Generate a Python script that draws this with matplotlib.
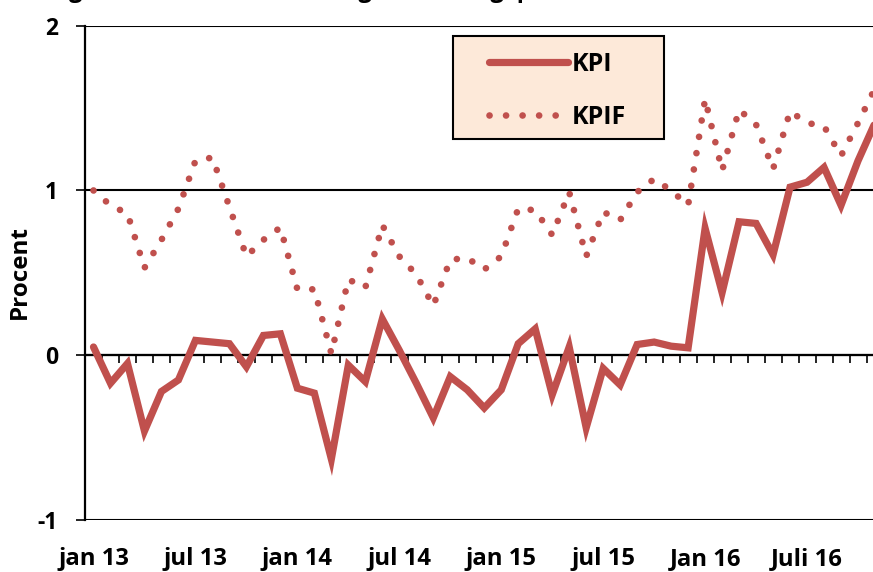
import numpy as np
import matplotlib
matplotlib.use("Agg")
import matplotlib.pyplot as plt
from matplotlib.patches import Rectangle

# ---- data (annual % change), monthly Jan 2013 .. Nov 2016 ----
kpi = [0.05, -0.17, -0.05, -0.46, -0.22, -0.15, 0.09, 0.08, 0.07, -0.07, 0.12, 0.13,
       -0.20, -0.23, -0.63, -0.06, -0.16, 0.22, 0.03, -0.17, -0.38, -0.13, -0.21, -0.32,
       -0.21, 0.07, 0.16, -0.24, 0.05, -0.44, -0.08, -0.18, 0.065, 0.08, 0.055, 0.045,
       0.77, 0.38, 0.81, 0.80, 0.61, 1.02, 1.05, 1.14, 0.91, 1.18, 1.41]
kpif = [1.00, 0.91, 0.86, 0.53, 0.70, 0.89, 1.18, 1.20, 0.90, 0.60, 0.70, 0.775,
        0.40, 0.40, 0.01, 0.46, 0.41, 0.79, 0.60, 0.49, 0.30, 0.58, 0.59, 0.52,
        0.60, 0.89, 0.88, 0.73, 0.99, 0.60, 0.87, 0.82, 0.99, 1.07, 1.00, 0.91,
        1.555, 1.12, 1.49, 1.40, 1.13, 1.48, 1.41, 1.39, 1.21, 1.41, 1.62]
tick_pos = [0, 6, 12, 18, 24, 30, 36, 42]
tick_labels = ["jan 13", "jul 13", "jan 14", "jul 14", "jan 15", "jul 15", "Jan 16", "Juli 16"]
series_names = ["KPI", "KPIF"]
y_ticks = [-1, 0, 1, 2]

RED = "#C0504D"
FONT = "Open Sans"

plt.rcParams["font.family"] = [FONT, "DejaVu Sans"]
plt.rcParams["font.weight"] = "bold"

W, H = 873, 572
fig = plt.figure(figsize=(W / 100, H / 100), dpi=100)
ax = fig.add_axes([85 / W, (H - 520) / H, 1 - 85 / W, (520 - 25.7) / H])

x = np.arange(len(kpi))
l1, = ax.plot(x, kpi, color=RED, lw=5.2, solid_capstyle="round", solid_joinstyle="miter",
              label=series_names[0], zorder=3)
l2, = ax.plot(x, kpif, color=RED, lw=4.8, linestyle=(0, (0.01, 2.47)),
              dash_capstyle="round", label=series_names[1], zorder=3)

# spines
for s in ["top", "right"]:
    ax.spines[s].set_visible(False)
ax.spines["bottom"].set_position(("data", 0))
ax.spines["bottom"].set_linewidth(1.6)
ax.spines["left"].set_linewidth(1.6)

# y axis
ax.set_yticks(y_ticks)
ax.set_yticklabels([str(v) for v in y_ticks])
ax.tick_params(axis="y", direction="out", length=6.5, width=1.2, pad=13,
               labelsize=16.5, colors="black")
ax.yaxis.grid(True, color="black", lw=1.5)
ax.set_axisbelow(True)
ax.set_ylabel("Procent", fontsize=17.5, fontweight="bold")
ax.yaxis.set_label_coords((32 - 85) / (W - 85), (520 - 272) / (520 - 25.7))

# x axis: minor ticks at month boundaries, labels far below
ax.set_xticks(np.arange(0.5, len(kpi) + 1, 1.0), minor=True)
ax.set_xticks(tick_pos)
ax.set_xticklabels(tick_labels)
ax.tick_params(axis="x", which="minor", direction="out", length=6, width=1.2)
ax.tick_params(axis="x", which="major", length=0, pad=138, labelsize=17.2)

ax.set_xlim(-0.5, (W - 93) / 17.0)
ax.set_ylim(-1, 2)

# title (cut off at the top edge, as in the source image)
fig.text(30 / W, 1.0 + 3 / H, "Diagram 1. KPI och KPIF, årlig förändring, procent",
         fontsize=17, fontweight="bold", va="baseline", ha="left")

# legend box
fig.patches.append(Rectangle((453 / W, (H - 139) / H), 211 / W, 103 / H,
                             transform=fig.transFigure, facecolor="#FDE9D9",
                             edgecolor="black", lw=1.5, zorder=4))
leg = fig.legend(handles=[l1, l2], loc="upper left",
                 bbox_to_anchor=(489 / W, (H - 52) / H), frameon=False,
                 handlelength=3.15, handletextpad=0.18, labelspacing=1.1,
                 borderpad=0, borderaxespad=0,
                 prop={"family": FONT, "weight": "bold", "size": 18})
leg.set_zorder(5)

fig.savefig("out.png", dpi=100)
